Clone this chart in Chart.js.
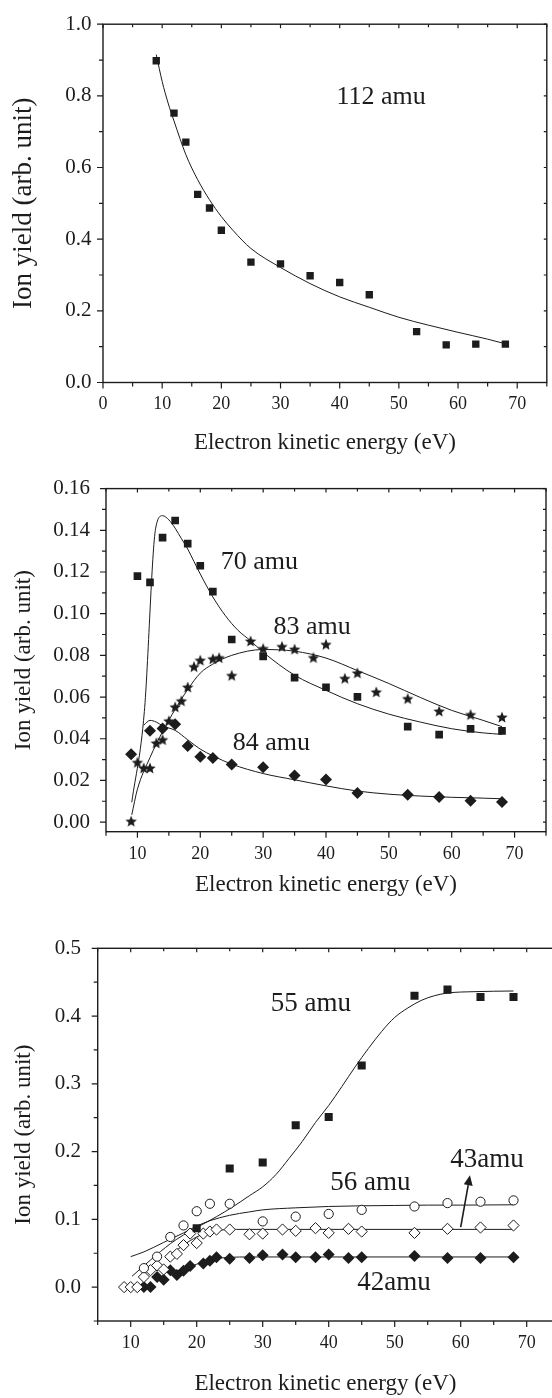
<!DOCTYPE html>
<html>
<head>
<meta charset="utf-8">
<script src="https://cdn.jsdelivr.net/npm/chart.js@4.4.1/dist/chart.umd.min.js"></script>
<style>
  body { margin: 0; background: #fff; overflow: hidden; width: 552px; height: 1398px; position: relative; }
  canvas { position: absolute; left: 0; }
</style>
</head>
<body>
<canvas id="p1" width="552" height="460" style="top:0"></canvas>
<canvas id="p2" width="552" height="440" style="top:460px"></canvas>
<canvas id="p3" width="560" height="498" style="top:900px"></canvas>
<script>
// ---- panel 1: 112 amu ----
var e112 = [9, 12, 14, 16, 18, 20, 25, 30, 35, 40, 45, 53, 58, 63, 68];
var y112 = [0.898, 0.752, 0.671, 0.525, 0.487, 0.425, 0.336, 0.331, 0.298, 0.279, 0.245, 0.142, 0.105, 0.107, 0.107];
var fit112X = [9, 10, 11, 12, 14, 16, 18, 20, 22, 25, 30, 35, 40, 45, 50, 55, 60, 65, 68];
var fit112Y = [0.915, 0.84, 0.78, 0.73, 0.636, 0.566, 0.51, 0.463, 0.424, 0.374, 0.321, 0.276, 0.239, 0.21, 0.182, 0.16, 0.14, 0.121, 0.108];
var xLabels1 = [0, 10, 20, 30, 40, 50, 60, 70];
var yLabels1 = [0, 0.2, 0.4, 0.6, 0.8, 1.0];

// ---- panel 2: 70, 83, 84 amu ----
var e70 = [10, 12, 14, 16, 18, 20, 22, 25, 30, 35, 40, 45, 53, 58, 63, 68];
var y70 = [0.118, 0.115, 0.1365, 0.1447, 0.1336, 0.123, 0.1106, 0.0876, 0.0795, 0.0693, 0.0647, 0.0601, 0.0458, 0.042, 0.0447, 0.0438];
var e83 = [9, 10, 11, 12, 13, 14, 15, 16, 17, 18, 19, 20, 22, 23, 25, 28, 30, 33, 35, 38, 40, 43, 45, 48, 53, 58, 63, 68];
var y83 = [0.0005, 0.0287, 0.026, 0.026, 0.038, 0.0396, 0.0486, 0.0553, 0.0582, 0.0648, 0.0746, 0.0777, 0.0784, 0.0789, 0.0704, 0.0869, 0.0833, 0.0843, 0.083, 0.079, 0.0853, 0.069, 0.0716, 0.0625, 0.0593, 0.0533, 0.0516, 0.0504];
var e84 = [9, 12, 14, 16, 18, 20, 22, 25, 30, 35, 40, 45, 53, 58, 63, 68];
var y84 = [0.0326, 0.0438, 0.0449, 0.0469, 0.0365, 0.0314, 0.0308, 0.0276, 0.0263, 0.0224, 0.0205, 0.014, 0.0131, 0.0121, 0.0102, 0.0097];
var fit70X = [9.1, 11.1, 12.9, 14, 15, 16, 17, 18, 19, 20, 22, 24, 26, 28, 30, 35, 40, 45, 50, 55, 60, 65, 68];
var fit70Y = [0.0095, 0.053, 0.141, 0.147, 0.145, 0.141, 0.136, 0.131, 0.125, 0.119, 0.108, 0.099, 0.092, 0.087, 0.0815, 0.0705, 0.0632, 0.0568, 0.0518, 0.048, 0.0448, 0.0428, 0.0421];
var fit83X = [9.1, 10, 12, 14, 16, 18, 20, 22, 25, 30, 35, 40, 45, 50, 55, 60, 65, 68];
var fit83Y = [0.0035, 0.0158, 0.031, 0.0434, 0.0541, 0.0636, 0.0715, 0.0758, 0.08, 0.0828, 0.082, 0.0787, 0.0727, 0.0665, 0.0598, 0.0536, 0.0488, 0.0458];
var fit84X = [11, 12, 13, 14, 16, 18, 20, 22, 25, 30, 35, 40, 45, 50, 55, 60, 65, 68];
var fit84Y = [0.0465, 0.0488, 0.048, 0.0462, 0.044, 0.0395, 0.035, 0.0318, 0.0278, 0.0233, 0.0203, 0.0174, 0.0149, 0.0134, 0.0125, 0.0119, 0.0115, 0.0112];
var xLabels2 = [10, 20, 30, 40, 50, 60, 70];
var yLabels2 = [0, 0.02, 0.04, 0.06, 0.08, 0.10, 0.12, 0.14, 0.16];

// ---- panel 3: 55, 56, 43, 42 amu ----
var e55 = [20, 25, 30, 35, 40, 45, 53, 58, 63, 68];
var y55 = [0.087, 0.175, 0.184, 0.239, 0.251, 0.327, 0.43, 0.439, 0.428, 0.428];
var e56 = [12, 14, 16, 18, 20, 22, 25, 30, 35, 40, 45, 53, 58, 63, 68];
var y56 = [0.028, 0.045, 0.074, 0.091, 0.112, 0.123, 0.123, 0.097, 0.104, 0.108, 0.114, 0.119, 0.124, 0.126, 0.128];
var e43 = [9, 10, 11, 12, 13, 14, 15, 16, 17, 18, 19, 20, 21, 22, 23, 25, 28, 30, 33, 35, 38, 40, 43, 45, 53, 58, 63, 68];
var y43 = [0, 0, 0, 0.015, 0.025, 0.032, 0.026, 0.045, 0.049, 0.062, 0.079, 0.065, 0.079, 0.082, 0.085, 0.085, 0.078, 0.079, 0.085, 0.083, 0.087, 0.08, 0.086, 0.082, 0.08, 0.086, 0.088, 0.091];
var e42 = [12, 13, 14, 15, 16, 17, 18, 19, 21, 22, 23, 25, 28, 30, 33, 35, 38, 40, 43, 45, 53, 58, 63, 68];
var y42 = [0, 0, 0.015, 0.011, 0.025, 0.018, 0.024, 0.031, 0.035, 0.039, 0.044, 0.042, 0.043, 0.047, 0.048, 0.044, 0.044, 0.048, 0.043, 0.044, 0.046, 0.043, 0.043, 0.044];
var fit55X = [10.2, 13, 16, 18, 20.4, 23, 25.4, 28, 30, 32, 34, 36, 38, 40, 42, 44, 46, 48, 50, 52, 54, 56, 58, 62, 68];
var fit55Y = [0.016, 0.04, 0.064, 0.077, 0.09, 0.104, 0.118, 0.135, 0.148, 0.166, 0.19, 0.215, 0.243, 0.268, 0.296, 0.325, 0.352, 0.377, 0.398, 0.412, 0.423, 0.43, 0.434, 0.436, 0.437];
var fit56X = [10, 12, 15, 18, 20, 22, 25, 28, 30, 35, 40, 45, 50, 55, 60, 68];
var fit56Y = [0.045, 0.052, 0.066, 0.08, 0.09, 0.098, 0.106, 0.111, 0.114, 0.117, 0.119, 0.12, 0.1205, 0.121, 0.121, 0.1215];
var fit43X = [16, 18, 20, 22, 24, 26, 30, 68];
var fit43Y = [0.047, 0.062, 0.074, 0.081, 0.0845, 0.0852, 0.0852, 0.0852];
var fit42X = [17, 19, 21, 23, 25, 28, 68];
var fit42Y = [0.02, 0.03, 0.037, 0.042, 0.044, 0.0445, 0.0445];
var xLabels3 = [10, 20, 30, 40, 50, 60, 70];
var yLabels3 = [0, 0.1, 0.2, 0.3, 0.4, 0.5];

var INK = '#1c1c1c';
var SERIF = '"Liberation Serif", "Times New Roman", serif';
Chart.defaults.font.family = SERIF;
Chart.defaults.color = INK;

function pts(xs, ys) {
    return xs.map(function(x, i) { return {x: x, y: ys[i]}; });
}

function starCanvas(r) {
    var s = Math.ceil(r * 2 + 2);
    var c = document.createElement('canvas');
    c.width = s; c.height = s;
    var g = c.getContext('2d');
    g.fillStyle = INK;
    g.beginPath();
    for (var i = 0; i < 10; i++) {
        var a = -Math.PI / 2 + i * Math.PI / 5;
        var rr = i % 2 ? r * 0.45 : r;
        g.lineTo(s / 2 + rr * Math.cos(a), s / 2 + 0.6 + rr * Math.sin(a));
    }
    g.closePath();
    g.fill();
    return c;
}

function marks(xs, ys, style, r, fill) {
    return {data: pts(xs, ys), pointStyle: style, pointRadius: r, backgroundColor: fill || INK,
            borderColor: INK, borderWidth: fill ? 1 : 0, order: 0};
}
function fit(xs, ys) {
    return {data: pts(xs, ys), showLine: true, pointRadius: 0, borderColor: INK, borderWidth: 1,
            cubicInterpolationMode: 'monotone', order: 1};
}

function steps(from, to, step) {
    var out = [];
    for (var v = from; v <= to + 1e-9; v += step) out.push(Math.round(v * 1000) / 1000);
    return out;
}

// frame, minor/major tick marks, in-plot labels and arrow
function decoPlugin(spec) {
    return {
        id: 'deco',
        afterDraw: function(chart) {
            var ctx = chart.ctx, a = chart.chartArea, xs = chart.scales.x, ys = chart.scales.y;
            ctx.save();
            ctx.strokeStyle = INK;
            ctx.lineWidth = 1.4;
            ctx.strokeRect(a.left, a.top, a.right - a.left, a.bottom - a.top);
            ctx.lineWidth = 1.2;
            ctx.beginPath();
            spec.xTicks.forEach(function(v) {
                var px = xs.getPixelForValue(v), major = spec.xMajor.indexOf(v) >= 0;
                ctx.moveTo(px, a.bottom); ctx.lineTo(px, a.bottom + (major ? 6 : 4));
                ctx.moveTo(px, a.top); ctx.lineTo(px, a.top + (major ? 4 : 3));
            });
            spec.yTicks.forEach(function(v) {
                var py = ys.getPixelForValue(v), major = spec.yMajor.indexOf(v) >= 0;
                ctx.moveTo(a.left, py); ctx.lineTo(a.left - (major ? 6 : 4), py);
                if (spec.rightTicks) { ctx.moveTo(a.right, py); ctx.lineTo(a.right - 3, py); }
            });
            ctx.stroke();

            ctx.fillStyle = INK;
            ctx.font = spec.labelSize + 'px ' + SERIF;
            ctx.textAlign = 'center';
            ctx.textBaseline = 'middle';
            spec.labels.forEach(function(l) {
                ctx.fillText(l.text, xs.getPixelForValue(l.x), ys.getPixelForValue(l.y));
            });

            if (spec.arrow) {
                var x0 = xs.getPixelForValue(spec.arrow.x0), y0 = ys.getPixelForValue(spec.arrow.y0);
                var x1 = xs.getPixelForValue(spec.arrow.x1), y1 = ys.getPixelForValue(spec.arrow.y1);
                var ang = Math.atan2(y1 - y0, x1 - x0), hl = 10, hw = 4.5;
                var bx = x1 - hl * Math.cos(ang), by = y1 - hl * Math.sin(ang);
                ctx.lineWidth = 1.6;
                ctx.beginPath(); ctx.moveTo(x0, y0); ctx.lineTo(bx, by); ctx.stroke();
                ctx.beginPath();
                ctx.moveTo(x1, y1);
                ctx.lineTo(bx + hw * Math.sin(ang), by - hw * Math.cos(ang));
                ctx.lineTo(bx - hw * Math.sin(ang), by + hw * Math.cos(ang));
                ctx.closePath(); ctx.fill();
            }
            ctx.restore();
        }
    };
}

function scales(p) {
    return {
        x: {
            type: 'linear', min: p.xMin, max: p.xMax,
            grid: {display: false, drawTicks: false}, border: {display: false},
            afterBuildTicks: function(s) { s.ticks = p.xLabels.map(function(v) { return {value: v}; }); },
            ticks: {padding: p.xPad, font: {size: 18}, maxRotation: 0, autoSkip: false,
                    callback: function(v) { return String(v); }},
            title: {display: true, text: 'Electron kinetic energy (eV)', font: {size: 23},
                    padding: {top: 0, bottom: p.xTitlePad}},
            afterFit: function(s) { s.height = p.xHeight; }
        },
        y: {
            type: 'linear', min: p.yMin, max: p.yMax,
            grid: {display: false, drawTicks: false}, border: {display: false},
            afterBuildTicks: function(s) { s.ticks = p.yLabels.map(function(v) { return {value: v}; }); },
            ticks: {padding: p.yPad, font: {size: 21}, autoSkip: false,
                    callback: function(v) { return v.toFixed(p.dec); }},
            title: {display: true, text: 'Ion yield (arb. unit)', font: {size: p.yTitleSize},
                    padding: {top: p.yTitlePad, bottom: 0}},
            afterFit: function(s) { s.width = p.left; }
        }
    };
}

function baseOptions(p) {
    return {
        responsive: false, animation: false, events: [],
        layout: {padding: {top: p.top, right: p.right, left: 0, bottom: 0}},
        plugins: {legend: {display: false}, tooltip: {enabled: false}},
        scales: scales(p)
    };
}

// panel 1
new Chart(document.getElementById('p1'), {
    type: 'scatter',
    data: {datasets: [
        marks(e112, y112, 'rect', 5.2),
        fit(fit112X, fit112Y)
    ]},
    options: baseOptions({xMin: 0, xMax: 75, yMin: 0, yMax: 1, dec: 1,
        xLabels: xLabels1, yLabels: yLabels1,
        left: 103, top: 22, right: 5, xHeight: 77.5, xPad: 10.7, xTitlePad: 3.2,
        yPad: 11.6, yTitleSize: 27, yTitlePad: 7.8}),
    plugins: [decoPlugin({
        xTicks: steps(0, 75, 5), xMajor: xLabels1,
        yTicks: steps(0, 1, 0.1), yMajor: yLabels1, rightTicks: true,
        labelSize: 26,
        labels: [{text: '112 amu', x: 47, y: 0.795}]
    })]
});

// panel 2
var star = starCanvas(6);
new Chart(document.getElementById('p2'), {
    type: 'scatter',
    data: {datasets: [
        marks(e70, y70, 'rect', 5.4),
        marks(e83, y83, star, 6),
        marks(e84, y84, 'rectRot', 6),
        fit(fit70X, fit70Y),
        fit(fit83X, fit83Y),
        fit(fit84X, fit84Y)
    ]},
    options: baseOptions({xMin: 5, xMax: 75, yMin: -0.0046, yMax: 0.16, dec: 2,
        xLabels: xLabels2, yLabels: yLabels2,
        left: 106, top: 14, right: 5.5, xHeight: 68.3, xPad: 11.5, xTitlePad: 1.2,
        yPad: 16, yTitleSize: 23, yTitlePad: 10.2}),
    plugins: [decoPlugin({
        xTicks: steps(5, 75, 5), xMajor: xLabels2,
        yTicks: steps(0, 0.16, 0.01), yMajor: yLabels2, rightTicks: true,
        labelSize: 26,
        labels: [{text: '70 amu', x: 29.4, y: 0.1249},
                 {text: '83 amu', x: 37.8, y: 0.0935},
                 {text: '84 amu', x: 31.3, y: 0.0378}]
    })]
});

// panel 3
new Chart(document.getElementById('p3'), {
    type: 'scatter',
    data: {datasets: [
        marks(e55, y55, 'rect', 5.7),
        marks(e56, y56, 'circle', 4.6, '#ffffff'),
        marks(e43, y43, 'rectRot', 5.6, '#ffffff'),
        marks(e42, y42, 'rectRot', 6),
        fit(fit55X, fit55Y),
        fit(fit56X, fit56Y),
        fit(fit43X, fit43Y),
        fit(fit42X, fit42Y)
    ]},
    options: baseOptions({xMin: 5, xMax: 74, yMin: -0.05, yMax: 0.5, dec: 1,
        xLabels: xLabels3, yLabels: yLabels3,
        left: 97.7, top: 48.3, right: 6.9, xHeight: 77, xPad: 11.5, xTitlePad: 0.2,
        yPad: 16.7, yTitleSize: 23, yTitlePad: 10.2}),
    plugins: [decoPlugin({
        xTicks: steps(5, 70, 5), xMajor: xLabels3,
        yTicks: steps(-0.05, 0.5, 0.05), yMajor: yLabels3, rightTicks: false,
        labelSize: 27,
        labels: [{text: '55 amu', x: 37.3, y: 0.418},
                 {text: '56 amu', x: 46.3, y: 0.154},
                 {text: '43amu', x: 64, y: 0.188},
                 {text: '42amu', x: 49.9, y: 0.006}],
        arrow: {x0: 60, y0: 0.0886, x1: 61.4, y1: 0.165}
    })]
});
</script>
</body>
</html>
